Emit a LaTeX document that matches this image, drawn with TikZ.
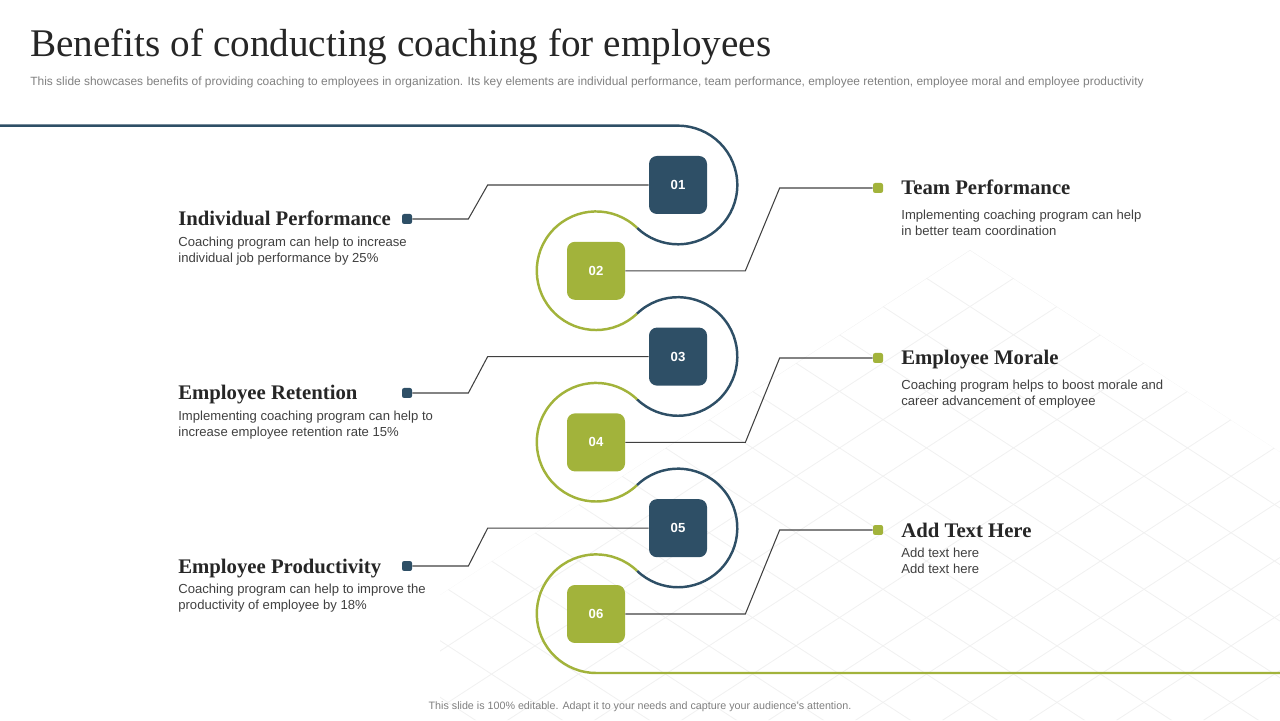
\documentclass[tikz,border=0pt]{standalone}
\usepackage{fontspec}
\setmainfont{Liberation Serif}
\setsansfont{Liberation Sans}
\usepackage{tikz}
\usetikzlibrary{calc}
\definecolor{slateblue}{HTML}{2E4F66}
\definecolor{olivegreen}{HTML}{A2B33B}
\definecolor{gridgray}{HTML}{F1F1F1}
\definecolor{textgray}{HTML}{404040}
\definecolor{notegray}{HTML}{7F7F7F}

\begin{document}
\begin{tikzpicture}[x=0.02cm,y=0.02cm,
  numbox/.style={rounded corners=4.5pt,minimum size=1.16cm,inner sep=0pt,
    text=white,font=\sffamily\bfseries\fontsize{7.5}{9}\selectfont},
  dot/.style={rounded corners=1.2pt,minimum size=0.2cm,inner sep=0pt},
  link/.style={draw=textgray,line width=0.6pt},
  loopline/.style={line width=1.4pt},
  head/.style={font=\bfseries\fontsize{11.8}{13}\selectfont,text=black!85,inner sep=0pt},
  body/.style={font=\sffamily\fontsize{7.45}{9.1}\selectfont,text=textgray,
    align=left,inner sep=0pt}]
 \useasboundingbox (0,0) rectangle (1280,720);
 % faint lattice
 \begin{scope}
  \clip (970,470) -- (440,125) -- (440,0) -- (1280,0) -- (1280,268) -- cycle;
  \foreach \k in {-18,...,14} {
   \draw[gridgray,line width=0.5pt] (970+87*\k-800,-50) -- ++(1600,1040);
   \draw[gridgray,line width=0.5pt] (970+87*\k+800,-50) -- ++(-1600,1040);}
 \end{scope}
 \node[anchor=base west,inner sep=0pt,text=black!85,font=\fontsize{22.3}{26}\selectfont]
  (title) at (30,663) {Benefits of conducting coaching for employees};
 \node[anchor=base west,inner sep=0pt,text=notegray,font=\sffamily\fontsize{6.8}{8}\selectfont]
  (sub) at (30,634) {This slide showcases benefits of providing coaching to employees in organization. Its key elements are individual performance, team performance, employee retention, employee moral and employee productivity};
 \node[anchor=base,inner sep=0pt,text=notegray,font=\sffamily\fontsize{6.1}{7}\selectfont]
  (foot) at (640,11) {This slide is 100\% editable. Adapt it to your needs and capture your audience's attention.};
 % the winding line
 \draw[loopline,slateblue] (0,594.3) -- (678,594.3)
  arc[start angle=90,end angle=-133.7,radius=59.3] coordinate (j1);
 \draw[loopline,olivegreen] (j1) arc[start angle=46.3,end angle=313.7,radius=59.3] coordinate (j2);
 \draw[loopline,slateblue] (j2) arc[start angle=133.7,end angle=-133.7,radius=59.3] coordinate (j3);
 \draw[loopline,olivegreen] (j3) arc[start angle=46.3,end angle=313.7,radius=59.3] coordinate (j4);
 \draw[loopline,slateblue] (j4) arc[start angle=133.7,end angle=-133.7,radius=59.3] coordinate (j5);
 \draw[loopline,olivegreen] (j5) arc[start angle=46.3,end angle=270,radius=59.3] -- ++(684,0);
 % left side
 \foreach \i/\x/\y/\hy/\by/\title/\txt in {
   1/678/535/494/483/{Individual Performance}/{Coaching program can help to increase\\individual job performance by 25\%},
   3/678/363.4/320/309/{Employee Retention}/{Implementing coaching program can help to\\increase employee retention rate 15\%},
   5/678/191.8/147/136/{Employee Productivity}/{Coaching program can help to improve the\\productivity of employee by 18\%}} {
  \node[numbox,fill=slateblue] (b\i) at (\x,\y) {0\i};
  \node[dot,fill=slateblue] (s\i) at (407,\hy+7) {};
  \node[head,anchor=base west] (h\i) at (178,\hy) {\title};
  \node[body,anchor=north west] (t\i) at (178,\by) {\txt};
  \draw[link] (b\i.west) -- ++(-161,0) -- ($(s\i.east)+(56,0)$) -- (s\i.east);}
 % right side
 \foreach \i/\x/\y/\hy/\by/\title/\txt in {
   2/596/449.2/525/510/{Team Performance}/{Implementing coaching program can help\\in better team coordination},
   4/596/277.6/355/340/{Employee Morale}/{Coaching program helps to boost morale and\\career advancement of employee},
   6/596/106/183/172/{Add Text Here}/{Add text here\\Add text here}} {
  \node[numbox,fill=olivegreen] (b\i) at (\x,\y) {0\i};
  \node[dot,fill=olivegreen] (s\i) at (878,\hy+7) {};
  \node[head,anchor=base west] (h\i) at (901,\hy) {\title};
  \node[body,anchor=north west] (t\i) at (901,\by) {\txt};
  \draw[link] (b\i.east) -- ++(120,0) -- ($(s\i.west)-(93,0)$) -- (s\i.west);}
\end{tikzpicture}
\end{document}
